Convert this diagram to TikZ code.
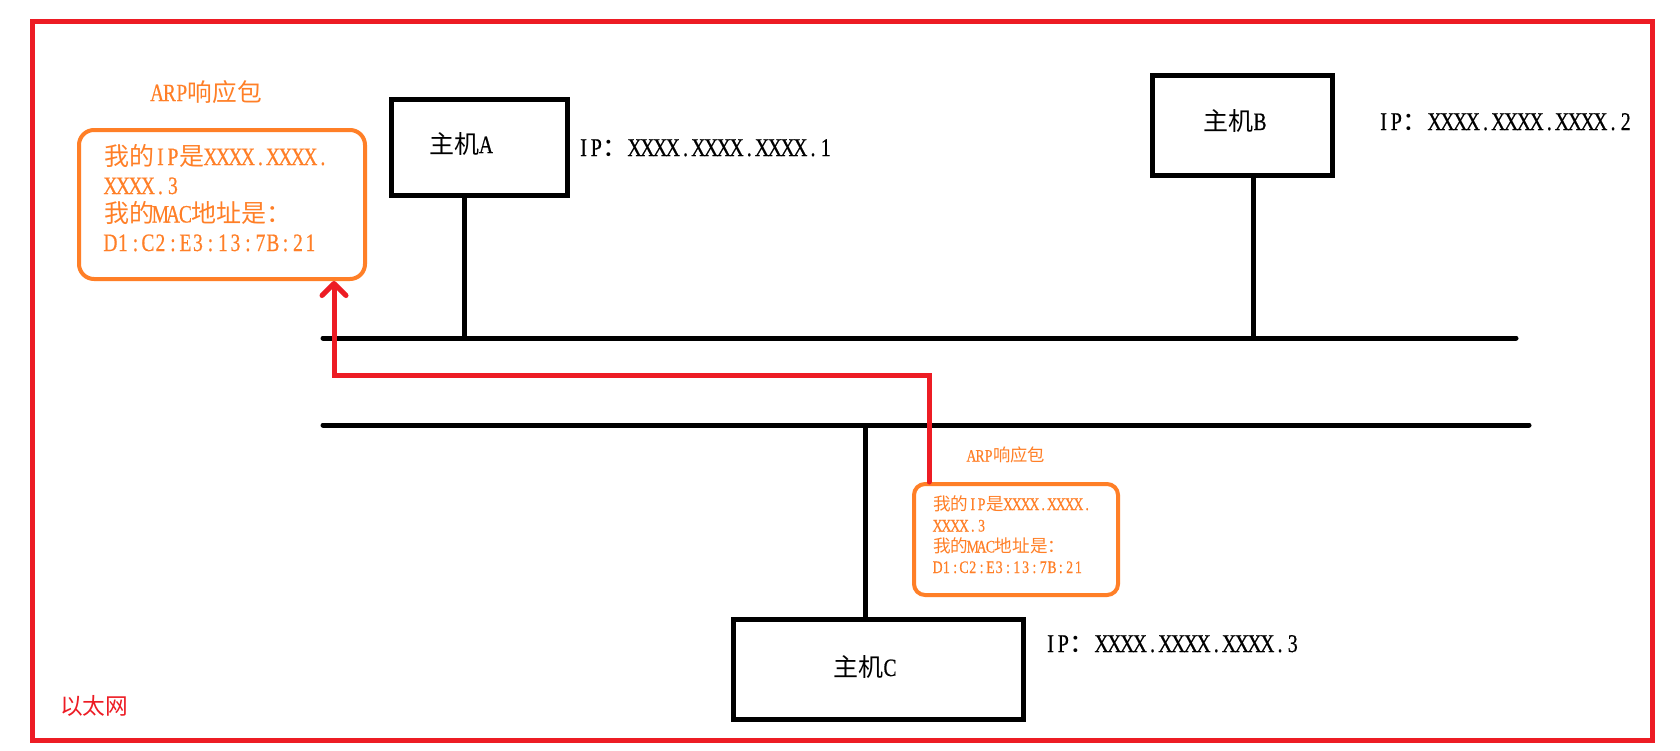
\documentclass[tikz,border=0pt]{standalone}
\usepackage{fontspec}
\setmainfont{Liberation Serif}[FakeStretch=0.78, FakeBold=0.5]
\newfontfamily\cjk{Noto Sans CJK SC}
\usetikzlibrary{arrows.meta}
\definecolor{netred}{HTML}{ED1C24}
\definecolor{pktorange}{HTML}{FF7F27}
% Latin characters set in half-width cells, CJK characters in full-width ones
\makeatletter
\newcommand\hw[1]{\hw@loop#1\relax}
\def\hw@loop#1{\ifx#1\relax\else\makebox[.5\dimexpr\f@size pt\relax]{#1}\expandafter\hw@loop\fi}
\makeatother
\newcommand\zh[1]{{\cjk #1}}
\newcommand\fs[1]{\fontsize{#1}{#1}\selectfont}

\begin{document}
\begin{tikzpicture}[x=1pt, y=-1pt,
  every node/.style={inner sep=0pt},
  hostbox/.style={draw=black, line width=5pt},
  hostname/.style={anchor=base, font=\fs{25}},
  iptext/.style={anchor=base west, font=\fs{25.5}},
  bus/.style={draw=black, line width=5pt, line cap=round},
  drop/.style={draw=black, line width=5pt},
  pktbox/.style={draw=pktorange, line width=4pt},
  pkttext/.style={anchor=base west, text=pktorange},
  pkttitle/.style={anchor=base, text=pktorange},
  reply/.style={draw=netred, line width=5pt, line cap=round,
    -{Straight Barb[length=12pt,width=24pt,round]}}]

\fill[white] (0,0) rectangle (1680,750);
\useasboundingbox (0,0) rectangle (1680,750);

% Ethernet segment frame
\draw[netred, line width=5pt] (32.5,21.7) rectangle (1652.5,740.5);
\node[anchor=base west, font=\fs{22.7}, text=netred] (ethname) at (60,714.5) {\zh{以太网}};

% hosts
\node[hostbox, minimum width=176, minimum height=96] (hostA) at (479,147) {};
\node[hostname] (nameA) at (461,153) {\zh{主机}\hw{A}};
\node[iptext] (ipA) at (577,156) {\hw{IP}\zh{：}\hw{XXXX.XXXX.XXXX.1}};

\node[hostbox, minimum width=180, minimum height=100] (hostB) at (1242,125) {};
\node[hostname] (nameB) at (1235,130) {\zh{主机}\hw{B}};
\node[iptext] (ipB) at (1377,130) {\hw{IP}\zh{：}\hw{XXXX.XXXX.XXXX.2}};

\node[hostbox, minimum width=290, minimum height=100] (hostC) at (878,669) {};
\node[hostname] (nameC) at (865,676) {\zh{主机}\hw{C}};
\node[iptext] (ipC) at (1044,652) {\hw{IP}\zh{：}\hw{XXXX.XXXX.XXXX.3}};

% bus lines
\coordinate (busTopL) at (323,338);
\coordinate (busTopR) at (1516,338);
\coordinate (busBotL) at (323,425);
\coordinate (busBotR) at (1529,425);
\draw[bus] (busTopL) -- (busTopR);
\draw[bus] (busBotL) -- (busBotR);

% host drops onto the buses
\coordinate (tapA) at (464,340);
\coordinate (tapB) at (1253,340);
\coordinate (tapC) at (865,425);
\draw[drop] (tapA |- hostA.south) -- (tapA);
\draw[drop] (tapB |- hostB.south) -- (tapB);
\draw[drop] (tapC) -- (tapC |- hostC.north);

% ARP reply as sent by host C
\node[pktbox, rounded corners=11pt, minimum width=204, minimum height=111] (pkt2) at (1016,539.5) {};
\node[pkttitle, font=\fs{17.3}] (title2) at (1006,461.5) {\hw{ARP}\zh{响应包}};
\node[pkttext, font=\fs{17.6}] (pkt2a) at (933,510) {\zh{我的}\hw{IP}\zh{是}\hw{XXXX.XXXX.}};
\node[pkttext, font=\fs{17.6}] (pkt2b) at (933,531.5) {\hw{XXXX.3}};
\node[pkttext, font=\fs{17.6}] (pkt2c) at (933,552.5) {\zh{我的}\hw{MAC}\zh{地址是：}};
\node[pkttext, font=\fs{17.6}] (pkt2d) at (933,573) {\hw{D1:C2:E3:13:7B:21}};

% ARP reply as received
\node[pktbox, rounded corners=15pt, minimum width=286, minimum height=149] (pkt1) at (222,204.5) {};
\node[pkttitle, font=\fs{24.7}] (title1) at (206.5,101) {\hw{ARP}\zh{响应包}};
\node[pkttext, font=\fs{25}] (pkt1a) at (104,165) {\zh{我的}\hw{IP}\zh{是}\hw{XXXX.XXXX.}};
\node[pkttext, font=\fs{25}] (pkt1b) at (104,194) {\hw{XXXX.3}};
\node[pkttext, font=\fs{25}] (pkt1c) at (104,222.5) {\zh{我的}\hw{MAC}\zh{地址是：}};
\node[pkttext, font=\fs{25}] (pkt1d) at (104,251) {\hw{D1:C2:E3:13:7B:21}};

% reply path
\coordinate (turnR) at (929,375);
\coordinate (turnL) at (334,375);
\draw[reply] (turnR |- pkt2.north) -- (turnR) -- (turnL) -- (turnL |- pkt1.south);
\end{tikzpicture}
\end{document}
